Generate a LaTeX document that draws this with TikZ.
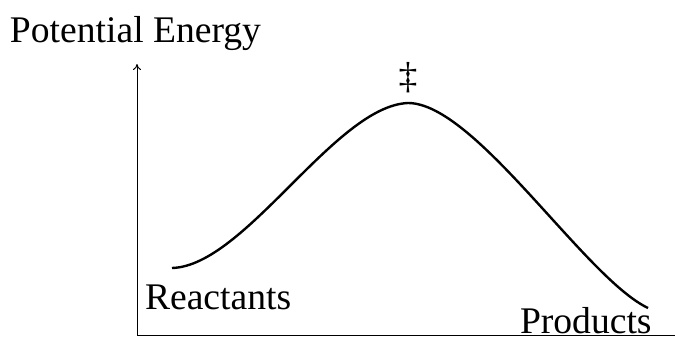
\documentclass[tikz,border=0pt]{standalone}
\usepackage{fontspec}
\setmainfont{Liberation Serif}
\usepackage{tikz}
\usetikzlibrary{arrows.meta, positioning, calc}

\begin{document}
\begin{tikzpicture}[
  x=0.5pt, y=-0.5pt,
  font=\fontsize{18.8}{22}\selectfont,
  asse/.style={draw=black, line width=0.5pt},
  curva/.style={draw=black, line width=1.2pt},
  etichetta/.style={inner sep=0pt, outer sep=0pt}
]
\useasboundingbox (0,0) rectangle (675,338);

% assi
\coordinate (O)  at (137,335);
\coordinate (Y)  at (137,64);
\coordinate (X)  at (675,335);
\draw[asse, -{To[length=3pt,width=4pt]}] (O) -- (Y);
\draw[asse] (O) -- (X);

% profilo di energia
\coordinate (R)  at (172,268);
\coordinate (TS) at (408,103);
\coordinate (P)  at (648,308);
\draw[curva] (R) .. controls (245,266) and (335,106) .. (TS)
             .. controls (475,103) and (585,278) .. (P);

% etichette
\node[etichetta, anchor=base west] (pe)  at (10,42)   {Potential Energy};
\node[etichetta, anchor=south]     (ts)  at (408,93)  {\ddag};
\node[etichetta, anchor=base west] (rea) at (145,309) {Reactants};
\node[etichetta, anchor=base west] (pro) at (520,333) {Products};

\end{tikzpicture}
\end{document}
